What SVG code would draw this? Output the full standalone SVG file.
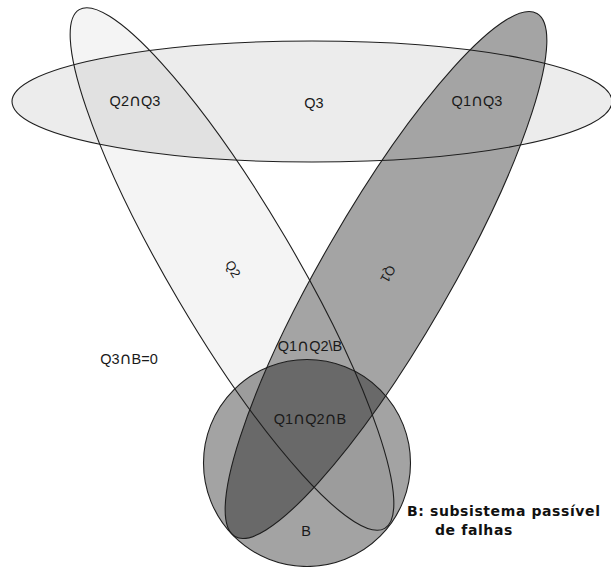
<svg xmlns="http://www.w3.org/2000/svg" xmlns:xlink="http://www.w3.org/1999/xlink" width="611" height="567" viewBox="0 0 611 567">
  <style>
    .lbl { font-family: "Liberation Sans", Arial, sans-serif; font-size: 14.5px; fill: #1a1a1a; text-anchor: middle; }
    .cap { font-family: "DejaVu Sans", sans-serif; font-size: 16.5px; }
    .rot { font-family: "Liberation Sans", Arial, sans-serif; font-size: 13px; fill: #1a1a1a; text-anchor: middle; }
    .legend { font-family: "DejaVu Sans", Verdana, sans-serif; font-size: 14px; font-weight: bold; fill: #111; letter-spacing: 0.6px; }
    .outline { fill: none; stroke: #1e1e1e; stroke-width: 1.1; }
  </style>
  <defs>
    <ellipse id="shapeQ3" cx="312" cy="101.5" rx="300" ry="60.5"/>
    <ellipse id="shapeQ2" cx="0" cy="0" rx="301" ry="62" transform="translate(232,269) rotate(59.5)"/>
    <ellipse id="shapeQ1" cx="0" cy="0" rx="302" ry="64" transform="translate(386,275) rotate(120)"/>
    <circle id="shapeB" cx="307" cy="463" r="103.5"/>
  </defs>
  <rect width="611" height="567" fill="#ffffff"/>
  <g id="Q3"><use xlink:href="#shapeQ3" fill="#ececec"/></g>
  <g id="Q2"><use xlink:href="#shapeQ2" fill="#000" fill-opacity="0.045"/></g>
  <g id="Q1"><use xlink:href="#shapeQ1" fill="#a4a4a4"/></g>
  <g id="B"><use xlink:href="#shapeB" fill="#000" fill-opacity="0.36"/></g>
  <g id="connectors" class="outline">
    <use xlink:href="#shapeQ3"/>
    <use xlink:href="#shapeQ2"/>
    <use xlink:href="#shapeQ1"/>
    <use xlink:href="#shapeB"/>
  </g>
  <g id="labels">
    <text class="lbl" x="135" y="106">Q2<tspan class="cap">∩</tspan>Q3</text>
    <text class="lbl" x="314" y="108">Q3</text>
    <text class="lbl" x="477" y="106">Q1<tspan class="cap">∩</tspan>Q3</text>
    <text class="lbl" x="129" y="364">Q3<tspan class="cap">∩</tspan>B=0</text>
    <text class="lbl" x="310" y="351">Q1<tspan class="cap">∩</tspan>Q2\B</text>
    <text class="lbl" x="310" y="424">Q1<tspan class="cap">∩</tspan>Q2<tspan class="cap">∩</tspan>B</text>
    <text class="lbl" x="306" y="536">B</text>
    <text class="rot" transform="translate(233,269) rotate(59.5)" x="0" y="4.5">Q2</text>
    <text class="rot" transform="translate(388,274) rotate(120)" x="0" y="4.5">Q1</text>
    <text class="legend" x="407" y="516">B: subsistema passível</text>
    <text class="legend" x="435" y="535">de falhas</text>
  </g>
</svg>
